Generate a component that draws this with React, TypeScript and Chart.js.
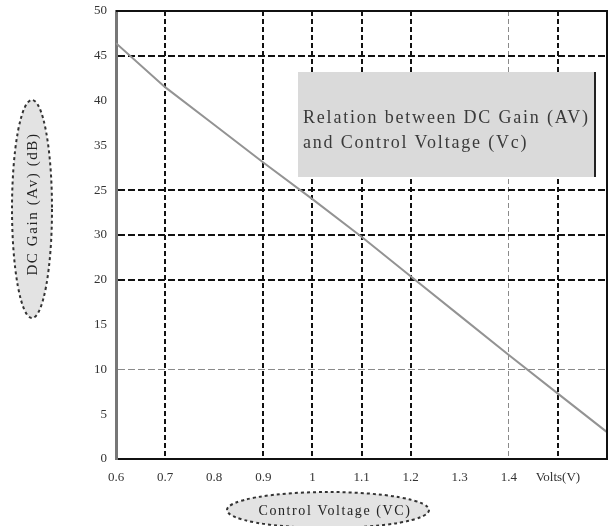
import { useEffect, useRef } from "react";
import { Chart, registerables } from "chart.js";

Chart.register(...registerables);

// ---- data ----
const VOLTS = [0.6, 0.7, 0.8, 0.9, 1.0, 1.1, 1.2, 1.3, 1.4, 1.5, 1.6];
const GAIN_DB = [46.4, 41.5, 37.3, 33.1, 29.0, 24.8, 20.4, 16.0, 11.6, 7.3, 3.0];
const X_TICK_LABELS = ["0.6", "0.7", "0.8", "0.9", "1", "1.1", "1.2", "1.3", "1.4", "Volts(V)", ""];
const Y_TICK_LABELS = ["0", "5", "10", "15", "20", "30", "25", "35", "40", "45", "50"];
const X_GRID_DARK = [0.7, 0.9, 1.0, 1.1, 1.2, 1.5];
const X_GRID_LIGHT = [1.4];
const Y_GRID_DARK = [20, 25, 30, 45];
const Y_GRID_LIGHT = [10];
const NOTE_LINES = ["Relation between DC Gain (AV)", "and Control Voltage (Vc)"];
const X_TITLE = "Control Voltage (VC)";
const Y_TITLE = "DC Gain (Av) (dB)";

const SERIF = "'Liberation Serif', 'DejaVu Serif', serif";

const near = (list: number[], v: number) => list.some((g) => Math.abs(g - v) < 1e-6);
const r1 = (v: number) => Math.round(v * 10) / 10;

const decorPlugin = {
  id: "decor",
  beforeDraw(chart: any) {
    const ctx = chart.ctx as CanvasRenderingContext2D;
    ctx.save();
    // Y title ellipse
    const ycx = 32, ycy = 209, yrx = 20, yry = 109;
    ctx.beginPath();
    ctx.ellipse(ycx, ycy, yrx, yry, 0, 0, Math.PI * 2);
    ctx.fillStyle = "#e3e3e3";
    ctx.fill();
    ctx.setLineDash([3, 3]);
    ctx.lineWidth = 2;
    ctx.strokeStyle = "#333";
    ctx.stroke();
    ctx.setLineDash([]);
    ctx.save();
    ctx.translate(ycx + 1, ycy - 5);
    ctx.rotate(-Math.PI / 2);
    ctx.font = `15px ${SERIF}`;
    (ctx as any).letterSpacing = "1.6px";
    ctx.fillStyle = "#222";
    ctx.textAlign = "center";
    ctx.textBaseline = "middle";
    ctx.fillText(Y_TITLE, 0, 0);
    ctx.restore();

    // X title ellipse
    const xcx = 328, xcy = 510, xrx = 101, xry = 18;
    ctx.beginPath();
    ctx.ellipse(xcx, xcy, xrx, xry, 0, 0, Math.PI * 2);
    ctx.fillStyle = "#e3e3e3";
    ctx.fill();
    ctx.setLineDash([3, 3]);
    ctx.lineWidth = 2;
    ctx.strokeStyle = "#333";
    ctx.stroke();
    ctx.setLineDash([]);
    ctx.font = `14px ${SERIF}`;
    (ctx as any).letterSpacing = "1.6px";
    ctx.fillStyle = "#222";
    ctx.textAlign = "center";
    ctx.textBaseline = "middle";
    ctx.fillText(X_TITLE, xcx + 7, xcy + 1);
    ctx.restore();
  },
  afterDraw(chart: any) {
    const ctx = chart.ctx as CanvasRenderingContext2D;
    const { left, right, top, bottom } = chart.chartArea;
    ctx.save();
    // top & right frame
    ctx.strokeStyle = "#111";
    ctx.lineWidth = 2;
    ctx.beginPath();
    ctx.moveTo(left, top);
    ctx.lineTo(right, top);
    ctx.lineTo(right, bottom);
    ctx.stroke();

    // note box
    const bx = 298, by = 72, bw = 297, bh = 105;
    ctx.fillStyle = "#dadada";
    ctx.fillRect(bx, by, bw, bh);
    ctx.strokeStyle = "#222";
    ctx.lineWidth = 2;
    ctx.beginPath();
    ctx.moveTo(bx + bw, by);
    ctx.lineTo(bx + bw, by + bh);
    ctx.stroke();
    ctx.font = `18px ${SERIF}`;
    (ctx as any).letterSpacing = "1.8px";
    ctx.fillStyle = "#3a3a3a";
    ctx.textAlign = "left";
    ctx.textBaseline = "middle";
    ctx.fillText(NOTE_LINES[0], bx + 5, 118);
    ctx.fillText(NOTE_LINES[1], bx + 5, 143);
    ctx.restore();
  },
};

export default function App() {
  const ref = useRef<HTMLCanvasElement | null>(null);

  useEffect(() => {
    if (!ref.current) return;
    const chart = new Chart(ref.current, {
      type: "line",
      data: {
        datasets: [
          {
            data: VOLTS.map((v, i) => ({ x: v, y: GAIN_DB[i] })),
            borderColor: "#939393",
            borderWidth: 2,
            pointRadius: 0,
            tension: 0,
            fill: false,
          },
        ],
      },
      options: {
        animation: false,
        responsive: false,
        devicePixelRatio: 1,
        layout: { padding: { left: 0, right: 3, top: 11, bottom: 0 } },
        plugins: { legend: { display: false }, tooltip: { enabled: false } },
        scales: {
          x: {
            type: "linear",
            min: 0.6,
            max: 1.6,
            afterFit: (s: any) => {
              s.height = 67;
              s.paddingRight = 0;
              s.paddingLeft = 0;
            },
            ticks: {
              stepSize: 0.1,
              autoSkip: false,
              maxRotation: 0,
              padding: 11,
              color: "#333",
              font: { family: SERIF, size: 13 },
              callback: (v: any) => {
                const i = Math.round((Number(v) - 0.6) / 0.1);
                return X_TICK_LABELS[i] ?? "";
              },
            },
            grid: {
              drawTicks: false,
              color: (c: any) => {
                const v = r1(c.tick?.value ?? -1);
                if (near(X_GRID_DARK, v)) return "#111";
                if (near(X_GRID_LIGHT, v)) return "#8a8a8a";
                return "rgba(0,0,0,0)";
              },
              lineWidth: (c: any) => {
                const v = r1(c.tick?.value ?? -1);
                return near(X_GRID_DARK, v) ? 2 : 1;
              },
            },
            border: { display: true, color: "#111", width: 2, dash: [5, 3] },
          },
          y: {
            type: "linear",
            min: 0,
            max: 50,
            afterFit: (s: any) => {
              s.width = 116;
              s.paddingTop = 0;
              s.paddingBottom = 0;
            },
            ticks: {
              stepSize: 5,
              padding: 9,
              color: "#333",
              font: { family: SERIF, size: 13 },
              callback: (v: any) => {
                const i = Math.round(Number(v) / 5);
                return Y_TICK_LABELS[i] ?? "";
              },
            },
            grid: {
              drawTicks: false,
              color: (c: any) => {
                const v = c.tick?.value ?? -1;
                if (near(Y_GRID_DARK, v)) return "#111";
                if (near(Y_GRID_LIGHT, v)) return "#8a8a8a";
                return "rgba(0,0,0,0)";
              },
              lineWidth: (c: any) => {
                const v = c.tick?.value ?? -1;
                return near(Y_GRID_DARK, v) ? 2 : 1;
              },
            },
            border: { display: true, color: "#777", width: 3, dash: [7, 3] },
          },
        },
      },
      plugins: [decorPlugin],
    } as any);
    return () => chart.destroy();
  }, []);

  return (
    <div style={{ position: "fixed", left: 0, top: 0, width: 610, height: 526, background: "#fff" }}>
      <canvas ref={ref} width={610} height={526} style={{ display: "block" }} />
    </div>
  );
}
